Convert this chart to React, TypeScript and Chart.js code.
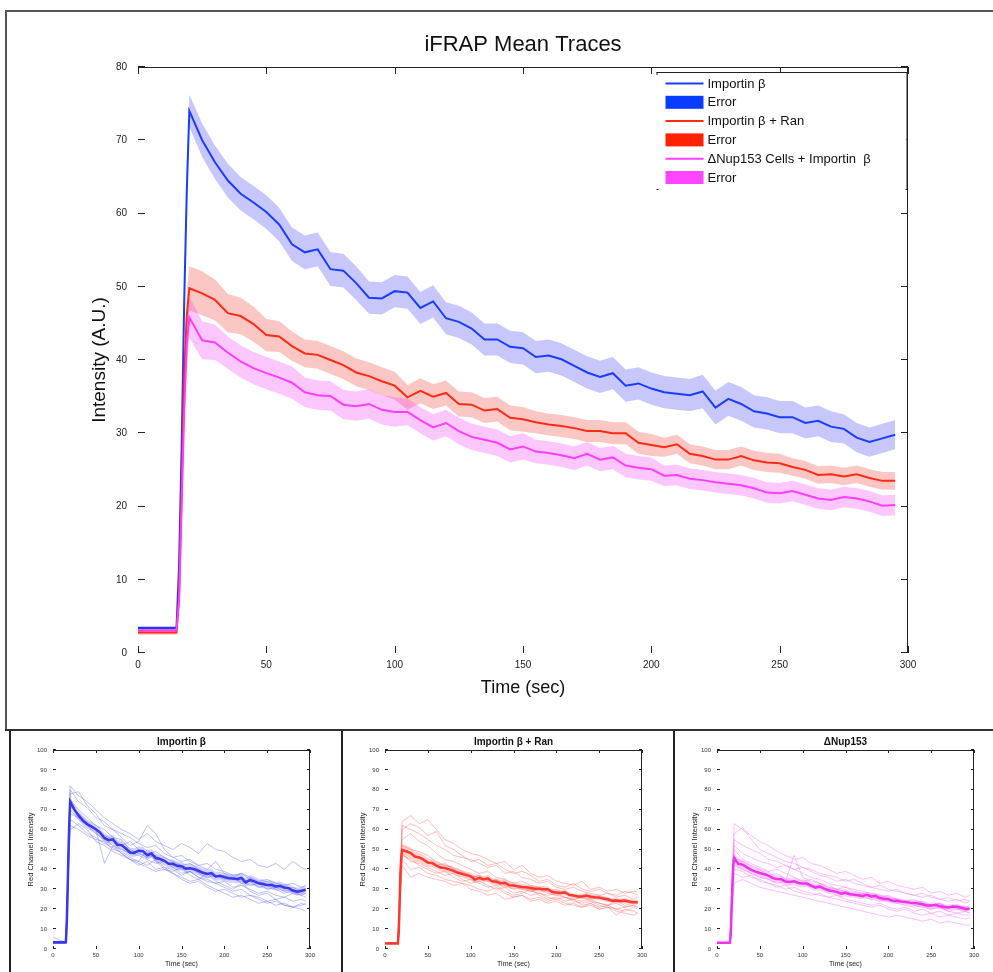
import { useEffect, useRef } from "react";
import { Chart, registerables } from "chart.js";

Chart.register(...registerables);

const FONT = "'Liberation Sans', Arial, Helvetica, sans-serif";

// ---------- Main panel data ----------
const TIME = [
  0, 5, 10, 15, 16, 17, 18, 19,
  20, 25, 30, 35, 40, 45, 50, 55, 60, 65,
  70, 75, 80, 85, 90, 95, 100, 105, 110, 115,
  120, 125, 130, 135, 140, 145, 150, 155, 160, 165,
  170, 175, 180, 185, 190, 195, 200, 205, 210, 215,
  220, 225, 230, 235, 240, 245, 250, 255, 260, 265,
  270, 275, 280, 285, 290, 295,
];

const IMPORTIN_MEAN = [
  3.4, 3.4, 3.4, 3.4, 12, 28, 48, 63,
  74.0, 70.0, 67.0, 64.5, 62.7, 61.5, 60.2, 58.5, 55.8, 54.7,
  55.1, 52.4, 52.2, 50.5, 48.5, 48.4, 49.4, 49.2, 47.1, 48.0,
  45.7, 45.2, 44.3, 42.8, 42.8, 41.8, 41.6, 40.4, 40.6, 40.1,
  39.2, 38.3, 37.7, 38.2, 36.5, 36.8, 36.1, 35.6, 35.4, 35.2,
  35.7, 33.5, 34.7, 34.0, 33.0, 32.7, 32.2, 32.2, 31.4, 31.7,
  30.9, 30.6, 29.4, 28.8, 29.3, 29.8,
];
const IMPORTIN_ERR = [
  0.3, 0.3, 0.3, 0.3, 1, 1.5, 2, 2.2,
  2.2, 2.3, 2.3, 2.3, 2.3, 2.3, 2.3, 2.3, 2.3, 2.3,
  2.3, 2.3, 2.3, 2.3, 2.2, 2.2, 2.2, 2.2, 2.2, 2.2,
  2.2, 2.2, 2.2, 2.2, 2.2, 2.2, 2.2, 2.2, 2.2, 2.2,
  2.2, 2.2, 2.2, 2.2, 2.2, 2.2, 2.2, 2.2, 2.2, 2.2,
  2.3, 2.3, 2.3, 2.3, 2.2, 2.2, 2.2, 2.2, 2.1, 2.1,
  2.1, 2.0, 2.0, 2.0, 2.0, 2.0,
];

const RAN_MEAN = [
  2.8, 2.8, 2.8, 2.8, 8, 22, 38, 46,
  49.8, 49.1, 48.2, 46.4, 46.0, 44.9, 43.4, 43.2, 41.9, 40.9,
  40.7, 40.0, 39.3, 38.3, 37.8, 37.1, 36.5, 34.9, 35.8, 35.0,
  35.5, 34.0, 33.9, 33.1, 33.3, 32.1, 31.9, 31.5, 31.2, 31.0,
  30.7, 30.3, 30.3, 30.0, 30.0, 28.7, 28.4, 28.1, 28.5, 27.2,
  26.9, 26.4, 26.4, 26.9, 26.3, 26.0, 25.9, 25.4, 25.0, 24.3,
  24.4, 24.1, 24.4, 23.9, 23.5, 23.5,
];
const RAN_ERR = [
  0.3, 0.3, 0.3, 0.3, 1, 1.5, 2.5, 3,
  3.0, 3.0, 2.8, 2.6, 2.5, 2.4, 2.2, 2.1, 2.0, 1.9,
  1.9, 1.9, 1.9, 1.9, 1.9, 1.9, 1.9, 1.7, 1.7, 1.7,
  1.7, 1.7, 1.7, 1.7, 1.7, 1.7, 1.7, 1.5, 1.5, 1.5,
  1.5, 1.5, 1.5, 1.5, 1.5, 1.5, 1.5, 1.3, 1.3, 1.3,
  1.3, 1.3, 1.3, 1.3, 1.3, 1.3, 1.3, 1.2, 1.2, 1.2,
  1.2, 1.2, 1.2, 1.2, 1.2, 1.2,
];

const NUP_MEAN = [
  3.1, 3.1, 3.1, 3.1, 7, 20, 33, 42,
  45.8, 42.7, 42.4, 41.0, 39.8, 38.9, 38.2, 37.6, 36.9, 35.6,
  35.2, 35.1, 33.9, 33.7, 34.0, 33.2, 32.9, 32.9, 31.8, 30.8,
  31.4, 30.3, 29.5, 29.1, 28.7, 27.8, 28.2, 27.5, 27.3, 27.0,
  26.6, 27.2, 26.4, 26.7, 25.6, 25.3, 25.1, 24.2, 24.3, 23.8,
  23.6, 23.3, 23.1, 22.9, 22.5, 21.9, 21.8, 22.1, 21.6, 21.1,
  20.9, 21.3, 21.1, 20.7, 20.1, 20.2,
];
const NUP_ERR = [
  0.3, 0.3, 0.3, 0.3, 1, 1.5, 2.5, 2.8,
  2.8, 2.6, 2.4, 2.2, 2.2, 2.2, 2.2, 2.2, 2.2, 2.0,
  2.0, 2.0, 2.0, 2.0, 2.0, 2.0, 2.0, 1.8, 1.8, 1.8,
  1.8, 1.8, 1.8, 1.8, 1.8, 1.8, 1.8, 1.6, 1.6, 1.6,
  1.6, 1.6, 1.6, 1.6, 1.6, 1.6, 1.6, 1.4, 1.4, 1.4,
  1.4, 1.4, 1.4, 1.4, 1.4, 1.4, 1.4, 1.4, 1.4, 1.4,
  1.4, 1.4, 1.4, 1.4, 1.4, 1.4,
];

const X_TICKS = [0, 50, 100, 150, 200, 250, 300];
const Y_TICKS_MAIN = [0, 10, 20, 30, 40, 50, 60, 70, 80];
const Y_TICKS_SMALL = [0, 10, 20, 30, 40, 50, 60, 70, 80, 90, 100];

const LEGEND_LABELS = [
  "Importin β",
  "Error",
  "Importin β + Ran",
  "Error",
  "ΔNup153 Cells + Importin  β",
  "Error",
];
const LEGEND_KINDS = ["line", "box", "line", "box", "line", "box"];
const LEGEND_COLORS = ["#1a3cff", "#0a3cff", "#ff2a12", "#ff2200", "#ff3cff", "#ff44ff"];

// ---------- Individual trace data (bottom panels) ----------
const TRACE_TIME = [
  0, 15, 20, 30, 40, 50, 60, 70, 80, 90, 100, 110, 120, 130, 140, 150,
  160, 170, 180, 190, 200, 210, 220, 230, 240, 250, 260, 270, 280, 290, 295,
];

const IMPORTIN_TRACES = [
  [3, 3, 82, 77, 74, 70, 66, 63, 60, 58, 55, 58, 54, 52, 50, 53, 51, 48, 53, 50, 49, 46, 44, 45, 42, 41, 43, 40, 44, 41, 40],
  [3, 3, 78, 79, 72, 68, 62, 60, 56, 52, 54, 62, 58, 50, 46, 44, 45, 42, 40, 44, 38, 36, 38, 35, 33, 34, 32, 30, 31, 29, 30],
  [4, 3, 75, 70, 66, 62, 60, 56, 55, 50, 48, 46, 47, 44, 42, 40, 41, 38, 36, 37, 35, 36, 33, 34, 31, 32, 30, 28, 29, 27, 28],
  [3, 3, 72, 68, 64, 60, 43, 52, 48, 45, 44, 50, 44, 40, 39, 41, 37, 35, 38, 34, 32, 30, 33, 29, 27, 28, 25, 26, 24, 25, 24],
  [3, 3, 70, 65, 62, 58, 55, 52, 50, 48, 47, 45, 43, 44, 41, 38, 39, 36, 34, 33, 31, 29, 30, 27, 26, 24, 25, 22, 21, 20, 19],
  [3, 3, 68, 66, 63, 60, 57, 55, 52, 54, 50, 48, 49, 46, 44, 42, 43, 40, 38, 36, 37, 35, 34, 32, 33, 30, 31, 29, 30, 28, 29],
  [3, 3, 65, 62, 58, 56, 53, 51, 48, 45, 42, 44, 40, 41, 38, 36, 34, 35, 32, 30, 28, 26, 27, 25, 23, 24, 22, 23, 21, 22, 23],
  [3, 3, 62, 60, 57, 55, 54, 50, 49, 46, 44, 42, 45, 41, 40, 37, 39, 36, 35, 33, 34, 31, 32, 30, 28, 29, 27, 26, 28, 27, 26],
  [3, 3, 60, 63, 60, 54, 52, 49, 47, 45, 43, 41, 39, 40, 38, 35, 33, 34, 31, 29, 30, 28, 26, 27, 25, 23, 24, 22, 21, 23, 22],
  [6, 3, 80, 74, 71, 66, 64, 60, 58, 56, 53, 51, 52, 48, 46, 47, 44, 42, 43, 40, 39, 37, 38, 36, 34, 35, 33, 32, 33, 31, 32],
];

const RAN_TRACES = [
  [3, 3, 64, 67, 63, 65, 60, 55, 53, 50, 48, 47, 45, 43, 44, 40, 42, 38, 36, 37, 34, 33, 32, 34, 30, 31, 29, 30, 28, 29, 29],
  [3, 3, 62, 60, 58, 55, 52, 50, 47, 46, 45, 43, 41, 42, 38, 39, 36, 35, 33, 34, 31, 30, 31, 29, 28, 27, 28, 26, 27, 25, 26],
  [3, 3, 55, 58, 54, 52, 48, 45, 44, 42, 40, 38, 39, 36, 35, 33, 34, 32, 31, 29, 30, 28, 27, 26, 25, 26, 24, 25, 23, 24, 23],
  [3, 3, 50, 48, 46, 44, 42, 43, 40, 38, 36, 37, 34, 35, 32, 30, 31, 29, 30, 28, 27, 26, 25, 26, 24, 23, 22, 23, 21, 22, 21],
  [3, 3, 48, 44, 43, 41, 39, 37, 38, 35, 33, 34, 32, 30, 31, 28, 29, 27, 28, 26, 25, 26, 24, 23, 24, 22, 21, 17, 20, 19, 18],
  [3, 3, 45, 40, 41, 38, 37, 35, 34, 33, 32, 30, 29, 31, 28, 26, 27, 25, 26, 24, 25, 23, 22, 21, 23, 20, 21, 19, 18, 17, 18],
  [3, 3, 42, 36, 38, 36, 35, 34, 32, 33, 30, 29, 27, 28, 25, 26, 27, 24, 25, 23, 24, 22, 23, 21, 22, 20, 21, 20, 19, 21, 20],
  [3, 3, 52, 50, 49, 47, 44, 42, 41, 39, 37, 36, 35, 33, 31, 32, 30, 29, 28, 27, 28, 26, 25, 24, 25, 23, 22, 24, 22, 23, 24],
  [3, 3, 60, 63, 61, 57, 59, 52, 50, 47, 44, 45, 42, 43, 40, 38, 39, 37, 34, 35, 32, 31, 33, 30, 29, 30, 28, 27, 29, 28, 27],
  [3, 3, 47, 45, 42, 40, 38, 39, 36, 34, 35, 33, 31, 32, 29, 27, 28, 30, 27, 25, 26, 24, 25, 22, 23, 21, 22, 20, 21, 22, 21],
];

const NUP_TRACES = [
  [3, 3, 63, 60, 57, 54, 52, 49, 47, 45, 46, 43, 42, 40, 38, 39, 37, 35, 36, 33, 34, 32, 31, 30, 31, 28, 29, 27, 28, 26, 27],
  [3, 3, 58, 61, 55, 50, 48, 46, 44, 43, 41, 40, 38, 37, 36, 34, 35, 33, 31, 32, 30, 29, 28, 27, 28, 26, 25, 26, 24, 25, 24],
  [3, 3, 52, 48, 46, 44, 43, 41, 42, 40, 38, 36, 35, 33, 32, 31, 30, 29, 28, 27, 26, 25, 24, 25, 23, 22, 23, 21, 22, 20, 21],
  [3, 3, 46, 44, 42, 40, 37, 38, 35, 34, 33, 31, 32, 30, 28, 29, 27, 26, 25, 24, 25, 23, 22, 21, 22, 20, 21, 19, 20, 19, 18],
  [3, 3, 42, 40, 38, 36, 35, 33, 34, 47, 36, 34, 33, 31, 30, 29, 27, 28, 26, 25, 24, 23, 24, 22, 21, 20, 21, 19, 18, 19, 18],
  [3, 3, 38, 36, 37, 34, 33, 32, 30, 31, 29, 28, 27, 26, 27, 25, 24, 23, 22, 23, 21, 20, 21, 19, 20, 18, 19, 17, 18, 17, 17],
  [3, 3, 33, 35, 33, 31, 30, 29, 28, 27, 26, 25, 24, 23, 22, 21, 20, 19, 18, 17, 16, 17, 16, 15, 14, 15, 13, 14, 13, 12, 12],
  [3, 3, 50, 45, 43, 41, 39, 40, 38, 36, 34, 35, 33, 32, 30, 31, 29, 28, 27, 26, 27, 25, 24, 23, 24, 22, 23, 21, 22, 21, 22],
  [3, 3, 55, 52, 50, 48, 45, 44, 42, 40, 41, 39, 37, 36, 34, 35, 33, 32, 31, 30, 29, 30, 28, 27, 26, 27, 25, 24, 25, 23, 24],
  [3, 3, 40, 39, 36, 35, 33, 31, 32, 29, 28, 27, 28, 26, 25, 24, 23, 22, 21, 22, 20, 19, 20, 18, 17, 18, 16, 17, 16, 15, 16],
];

// ---------- helpers ----------
const pts = (xs: number[], ys: number[]) => xs.map((x, i) => ({ x, y: ys[i] }));

function matlabBox(tickLen: number) {
  return {
    id: "matlabBox",
    afterDraw(chart: any) {
      const { ctx, chartArea } = chart;
      const { left, right, top, bottom } = chartArea;
      const xs = chart.scales.x;
      const ys = chart.scales.y;
      ctx.save();
      ctx.strokeStyle = "#222";
      ctx.lineWidth = 1;
      ctx.beginPath();
      ctx.moveTo(left, top + 0.5);
      ctx.lineTo(right, top + 0.5);
      ctx.moveTo(right - 0.5, top);
      ctx.lineTo(right - 0.5, bottom);
      xs.ticks.forEach((t: any) => {
        const px = Math.round(xs.getPixelForValue(t.value)) + 0.5;
        ctx.moveTo(px, top);
        ctx.lineTo(px, top + tickLen);
        ctx.moveTo(px, bottom);
        ctx.lineTo(px, bottom - tickLen);
      });
      ys.ticks.forEach((t: any) => {
        const py = Math.round(ys.getPixelForValue(t.value)) - 0.5;
        ctx.moveTo(left, py);
        ctx.lineTo(left + tickLen, py);
        ctx.moveTo(right, py);
        ctx.lineTo(right - tickLen, py);
      });
      ctx.stroke();
      ctx.restore();
    },
  };
}

const boxLegend = {
  id: "boxLegend",
  afterDraw(chart: any) {
    const { ctx, chartArea } = chart;
    const right = chartArea.right - 1.5;
    const left = right - 250;
    const top = chartArea.top + 5;
    const height = 118;
    ctx.save();
    ctx.fillStyle = "#fff";
    ctx.fillRect(left, top, right - left, height);
    ctx.strokeStyle = "#222";
    ctx.lineWidth = 1;
    ctx.beginPath();
    ctx.moveTo(left, top + 0.5);
    ctx.lineTo(right + 0.5, top + 0.5);
    ctx.lineTo(right + 0.5, top + height);
    ctx.moveTo(left + 0.5, top);
    ctx.lineTo(left + 0.5, top + 3);
    ctx.stroke();
    ctx.fillStyle = "#222";
    ctx.fillRect(left, top + height - 1, 2, 1);
    ctx.fillRect(right - 1, top + height - 1, 2, 1);
    ctx.font = `13px ${FONT}`;
    ctx.textBaseline = "middle";
    LEGEND_LABELS.forEach((label, i) => {
      const cy = top + 11.5 + i * 18.8;
      if (LEGEND_KINDS[i] === "line") {
        ctx.strokeStyle = LEGEND_COLORS[i];
        ctx.lineWidth = 2;
        ctx.beginPath();
        ctx.moveTo(left + 9, cy);
        ctx.lineTo(left + 47, cy);
        ctx.stroke();
      } else {
        ctx.fillStyle = LEGEND_COLORS[i];
        ctx.fillRect(left + 9, cy - 6.5, 38, 13);
      }
      ctx.fillStyle = "#111";
      ctx.fillText(label, left + 51, cy + 0.5);
    });
    ctx.restore();
  },
};

function bandSets(mean: number[], err: number[], color: string, order: number) {
  const upper = mean.map((m, i) => m + err[i]);
  const lower = mean.map((m, i) => m - err[i]);
  return [
    {
      data: pts(TIME, upper),
      borderColor: "transparent",
      borderWidth: 0,
      pointRadius: 0,
      backgroundColor: color,
      fill: "+1",
      order,
    },
    {
      data: pts(TIME, lower),
      borderColor: "transparent",
      borderWidth: 0,
      pointRadius: 0,
      fill: false,
      order,
    },
  ];
}

function mainConfig(): any {
  const datasets: any[] = [
    ...bandSets(IMPORTIN_MEAN, IMPORTIN_ERR, "rgba(40,40,240,0.26)", 12),
    ...bandSets(RAN_MEAN, RAN_ERR, "rgba(240,40,30,0.26)", 11),
    ...bandSets(NUP_MEAN, NUP_ERR, "rgba(245,40,245,0.26)", 10),
    { label: LEGEND_LABELS[0], data: pts(TIME, IMPORTIN_MEAN), borderColor: "#1a3cff", borderWidth: 2, pointRadius: 0, fill: false, order: 3 },
    { label: LEGEND_LABELS[2], data: pts(TIME, RAN_MEAN), borderColor: "#ff2a12", borderWidth: 2, pointRadius: 0, fill: false, order: 2 },
    { label: LEGEND_LABELS[4], data: pts(TIME, NUP_MEAN), borderColor: "#ff3cff", borderWidth: 2, pointRadius: 0, fill: false, order: 1 },
  ];
  return {
    type: "line",
    data: { datasets },
    options: {
      responsive: false,
      animation: false,
      layout: { padding: { left: 0, right: 85, top: 0, bottom: 0 } },
      elements: { line: { tension: 0 } },
      plugins: {
        legend: { display: false },
        tooltip: { enabled: false },
        title: {
          display: true,
          text: "iFRAP Mean Traces",
          fullSize: false,
          color: "#111",
          font: { family: FONT, size: 22, weight: "normal" },
          padding: { top: 19.8, bottom: 8.8 },
        },
      },
      scales: {
        x: {
          type: "linear",
          min: 0,
          max: 300,
          afterBuildTicks: (s: any) => { s.ticks = X_TICKS.map((v) => ({ value: v })); },
          afterFit: (s: any) => { s.height = 76; },
          grid: { display: false, drawTicks: false },
          border: { display: false },
          ticks: { padding: 6, color: "#222", maxRotation: 0, autoSkip: false, font: { family: FONT, size: 10 } },
          title: { display: true, text: "Time (sec)", color: "#111", font: { family: FONT, size: 18 }, padding: { top: 0, bottom: 30.2 } },
        },
        y: {
          type: "linear",
          min: 0,
          max: 80,
          afterBuildTicks: (s: any) => { s.ticks = Y_TICKS_MAIN.map((v) => ({ value: v })); },
          afterFit: (s: any) => { s.width = 131; },
          grid: { display: false, drawTicks: false },
          border: { display: false },
          ticks: { padding: 11, color: "#222", font: { family: FONT, size: 10 } },
          title: { display: true, text: "Intensity (A.U.)", color: "#111", font: { family: FONT, size: 19 }, padding: { top: 81.6, bottom: 0 } },
        },
      },
    },
    plugins: [matlabBox(7), boxLegend],
  };
}

function smallConfig(
  title: string,
  traces: number[][],
  traceColor: string,
  mean: number[],
  err: number[],
  meanColor: string,
  bandColor: string,
  rightPad: number
): any {
  const datasets: any[] = [
    ...traces.map((tr) => ({
      data: pts(TRACE_TIME, tr),
      borderColor: traceColor,
      borderWidth: 1,
      pointRadius: 0,
      fill: false,
      order: 5,
    })),
    ...bandSets(mean, err, bandColor, 2),
    { data: pts(TIME, mean), borderColor: meanColor, borderWidth: 2.5, pointRadius: 0, fill: false, order: 0 },
  ];
  return {
    type: "line",
    data: { datasets },
    options: {
      responsive: false,
      animation: false,
      layout: { padding: { left: 0, right: rightPad, top: 0, bottom: 0 } },
      elements: { line: { tension: 0 } },
      plugins: {
        legend: { display: false },
        tooltip: { enabled: false },
        title: {
          display: true,
          text: title,
          fullSize: false,
          color: "#111",
          font: { family: FONT, size: 10, weight: "bold" },
          padding: { top: 4, bottom: 2 },
        },
      },
      scales: {
        x: {
          type: "linear",
          min: 0,
          max: 300,
          afterBuildTicks: (s: any) => { s.ticks = X_TICKS.map((v) => ({ value: v })); },
          afterFit: (s: any) => { s.height = 23; },
          grid: { display: false, drawTicks: false },
          border: { display: false },
          ticks: { padding: 2.5, color: "#333", maxRotation: 0, autoSkip: false, font: { family: FONT, size: 6 } },
          title: { display: true, text: "Time (sec)", color: "#222", font: { family: FONT, size: 7 }, padding: { top: 0, bottom: 3.8 } },
        },
        y: {
          type: "linear",
          min: 0,
          max: 100,
          afterBuildTicks: (s: any) => { s.ticks = Y_TICKS_SMALL.map((v) => ({ value: v })); },
          afterFit: (s: any) => { s.width = 42; },
          grid: { display: false, drawTicks: false },
          border: { display: false },
          ticks: { padding: 6, color: "#333", font: { family: FONT, size: 6 } },
          title: { display: true, text: "Red Channel Intensity", color: "#222", font: { family: FONT, size: 7.5 }, padding: { top: 15.5, bottom: 0 } },
        },
      },
    },
    plugins: [matlabBox(3)],
  };
}

export default function App() {
  const mainRef = useRef<HTMLCanvasElement>(null);
  const p1Ref = useRef<HTMLCanvasElement>(null);
  const p2Ref = useRef<HTMLCanvasElement>(null);
  const p3Ref = useRef<HTMLCanvasElement>(null);

  useEffect(() => {
    const charts: Chart[] = [];
    if (mainRef.current) charts.push(new Chart(mainRef.current, mainConfig()));
    if (p1Ref.current)
      charts.push(
        new Chart(
          p1Ref.current,
          smallConfig("Importin β", IMPORTIN_TRACES, "rgba(110,110,255,0.45)", IMPORTIN_MEAN, IMPORTIN_ERR, "rgb(55,55,235)", "rgba(80,80,240,0.25)", 31)
        )
      );
    if (p2Ref.current)
      charts.push(
        new Chart(
          p2Ref.current,
          smallConfig("Importin β + Ran", RAN_TRACES, "rgba(255,110,110,0.45)", RAN_MEAN, RAN_ERR, "rgb(255,55,45)", "rgba(250,80,70,0.25)", 30)
        )
      );
    if (p3Ref.current)
      charts.push(
        new Chart(
          p3Ref.current,
          smallConfig("ΔNup153", NUP_TRACES, "rgba(255,110,255,0.45)", NUP_MEAN, NUP_ERR, "rgb(240,50,240)", "rgba(245,80,245,0.25)", 19)
        )
      );
    return () => charts.forEach((c) => c.destroy());
  }, []);

  const abs = (l: number, t: number, w: number, h: number, extra: any = {}) => ({
    position: "absolute" as const,
    left: l,
    top: t,
    width: w,
    height: h,
    ...extra,
  });

  return (
    <div style={{ position: "fixed", left: 0, top: 0, width: 993, height: 972, background: "#fff", overflow: "hidden" }}>
      {/* main frame */}
      <div style={abs(5, 10, 988, 2, { background: "#555" })} />
      <div style={abs(5, 10, 2, 720, { background: "#555" })} />
      <div style={abs(5, 729, 988, 2, { background: "#333" })} />
      {/* bottom panel separators */}
      <div style={abs(9, 730, 2, 242, { background: "#222" })} />
      <div style={abs(341, 730, 2, 242, { background: "#222" })} />
      <div style={abs(673, 730, 2, 242, { background: "#222" })} />

      <canvas ref={mainRef} width={986} height={717} style={abs(7, 12, 986, 717)} />
      <canvas ref={p1Ref} width={330} height={240} style={abs(11, 732, 330, 240)} />
      <canvas ref={p2Ref} width={329} height={240} style={abs(343, 732, 329, 240)} />
      <canvas ref={p3Ref} width={318} height={240} style={abs(675, 732, 318, 240)} />
    </div>
  );
}
